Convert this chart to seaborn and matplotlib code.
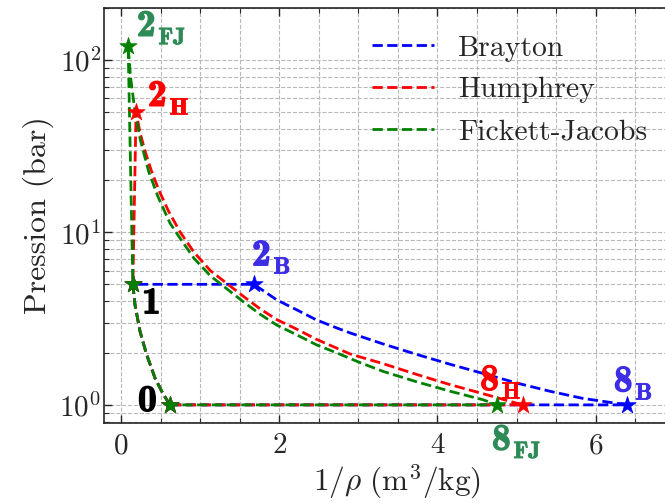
import matplotlib
matplotlib.use("Agg")
import matplotlib.pyplot as plt
import matplotlib.patheffects as pe_
from matplotlib.ticker import MultipleLocator
import seaborn as sns

# etats communs (1/rho en m3/kg, pression en bar)
v_compression = [0.62, 0.535, 0.43, 0.325, 0.24, 0.177, 0.15]
p_compression = [1.0, 1.15, 1.43, 1.95, 2.67, 3.8, 5.0]

# detentes 2 -> 8
v_brayton = [1.68, 1.97, 2.22, 2.47, 2.73, 2.9, 3.32, 3.74, 4.16, 4.58, 5.0, 5.42, 5.84, 6.4]
p_brayton = [5.0, 4.06, 3.56, 3.11, 2.79, 2.61, 2.25, 1.96, 1.72, 1.52, 1.34, 1.2, 1.09, 1.0]

v_humphrey = [0.19, 0.24, 0.3, 0.38, 0.48, 0.6, 0.75, 0.92, 1.13, 1.34, 1.55, 1.76, 1.97,
              2.22, 2.47, 2.9, 3.32, 3.74, 4.16, 4.58, 4.88, 5.08]
p_humphrey = [50.0, 38.0, 30.0, 23.0, 17.5, 13.3, 10.0, 7.7, 6.0, 5.05, 4.25, 3.6, 3.12,
              2.75, 2.4, 1.97, 1.73, 1.5, 1.31, 1.16, 1.06, 1.0]

v_fj = [0.09, 0.12, 0.17, 0.24, 0.35, 0.47, 0.62, 0.75, 0.92, 1.13, 1.34, 1.55, 1.76,
        1.97, 2.22, 2.47, 2.73, 3.02, 3.32, 3.74, 4.16, 4.58, 4.75]
p_fj = [120.0, 80.0, 53.0, 35.0, 22.5, 16.0, 11.3, 9.2, 7.1, 5.6, 4.7, 3.95, 3.35,
        2.9, 2.55, 2.23, 2.0, 1.76, 1.56, 1.36, 1.2, 1.07, 1.0]

cycles = ["Brayton", "Humphrey", "Fickett-Jacobs"]
couleurs = ["blue", "red", "green"]
couleurs_txt = ["#3d2ee6", "red", "#2e8b57"]
indices = ["B", "H", "FJ"]

sns.set_style("ticks")
plt.rcParams["font.family"] = "serif"
plt.rcParams["font.serif"] = ["cmr10"]
plt.rcParams["mathtext.fontset"] = "cm"
plt.rcParams["axes.formatter.use_mathtext"] = True
plt.rcParams["axes.unicode_minus"] = False

fig = plt.figure(figsize=(6.65, 5.04), dpi=100)
ax = fig.add_axes([0.1564, 0.1607, 0.882, 0.8234])

detentes = [(v_brayton, p_brayton), (v_humphrey, p_humphrey), (v_fj, p_fj)]

for nom, coul, (ve, pe) in zip(cycles, couleurs, detentes):
    vx = v_compression + ve + [v_compression[0]]
    py = p_compression + pe + [p_compression[0]]
    sns.lineplot(x=vx, y=py, sort=False, estimator=None, color=coul,
                 linestyle="--", linewidth=2.0, label=nom, ax=ax)

for coul, (ve, pe) in zip(couleurs, detentes):
    sx = [v_compression[0], v_compression[-1], ve[0], ve[-1]]
    sy = [p_compression[0], p_compression[-1], pe[0], pe[-1]]
    sns.scatterplot(x=sx, y=sy, marker="*", s=170, color=coul, edgecolor=coul,
                    linewidth=0.5, legend=False, zorder=5, ax=ax)

ax.set_yscale("log")
ax.set_xlim(-0.215, 7.2)
ax.set_ylim(0.785, 200)


# etiquettes des etats (chiffre gras + indice)
def etiquette(x, y, chiffre, c, indice=None):
    ax.text(x, y, chiffre, fontsize=27, color=c, family="cmb10", clip_on=False,
            path_effects=[pe_.withStroke(linewidth=1.0, foreground=c)])
    if indice:
        ax.annotate(indice, xy=(x, y), xytext=(15.5, -6), textcoords="offset points",
                    fontsize=17, color=c, family="cmb10", annotation_clip=False,
                    path_effects=[pe_.withStroke(linewidth=0.6, foreground=c)])


etiquette(0.215, 0.923, "0", "black")
etiquette(0.265, 3.4, "1", "black")
pos_2 = [(1.656, 6.45), (0.34, 54.2), (0.20, 138.0)]
pos_8 = [(6.23, 1.2), (4.54, 1.22), (4.69, 0.55)]
for c, idx, p2, p8 in zip(couleurs_txt, indices, pos_2, pos_8):
    etiquette(p2[0], p2[1], "2", c, idx)
    etiquette(p8[0], p8[1], "8", c, idx)

ax.xaxis.set_major_locator(MultipleLocator(2))
ax.xaxis.set_minor_locator(MultipleLocator(0.5))
ax.tick_params(which="both", direction="in", top=True, right=True, labelsize=21)
ax.tick_params(which="major", length=6, width=1)
ax.tick_params(which="minor", length=3.5, width=0.8)
ax.tick_params(axis="y", pad=2)
ax.tick_params(axis="x", pad=7)
ax.grid(True, which="both", linestyle="--", color="#b8b8b8", linewidth=0.8)
for sp in ax.spines.values():
    sp.set_linewidth(1.2)

ax.set_xlabel(r"$1/\rho\ (\mathrm{m}^3/\mathrm{kg})$", fontsize=22.5, labelpad=2)
ax.set_ylabel("Pression (bar)", fontsize=23)

ax.legend(loc="upper left", bbox_to_anchor=(0.457, 0.935), frameon=False,
          fontsize=21.4, borderpad=0, borderaxespad=0, handlelength=2.08,
          handletextpad=0.81, labelspacing=0.5)

fig.savefig("out.png", dpi=100)
